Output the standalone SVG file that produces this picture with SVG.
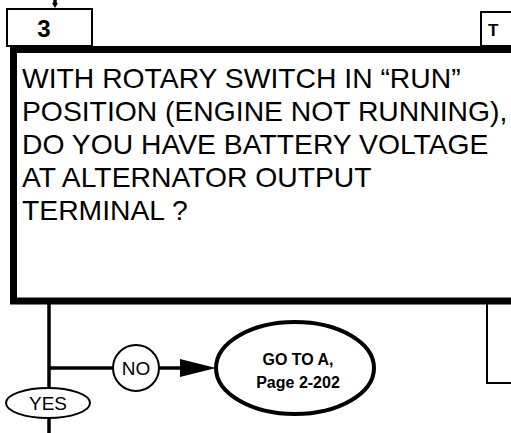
<svg xmlns="http://www.w3.org/2000/svg" width="511" height="433" viewBox="0 0 511 433">
<defs>
<style>
.t{font-family:"Liberation Sans",Arial,sans-serif;fill:#000}
.q{font-size:28.3px}
.b{font-weight:bold}
.thin{fill:#fff;stroke:#000;stroke-width:2}
.ln{fill:none;stroke:#000;stroke-width:3.5}
</style>
</defs>
<rect width="511" height="433" fill="#fff"/>
<g id="connectors">
<line class="ln" x1="55" y1="0" x2="55" y2="4" stroke-width="2"/>
<polygon points="52,3 58,3 55,8" fill="#000"/>
<line class="ln" x1="49" y1="303" x2="49" y2="389"/>
<line class="ln" x1="49" y1="418" x2="49" y2="433"/>
<line class="ln" x1="49" y1="368" x2="113" y2="368"/>
<line class="ln" x1="159" y1="368" x2="182" y2="368"/>
<polygon points="180,359 216,368 180,377" fill="#000"/>
<polyline points="487,303 487,383 511,383" fill="none" stroke="#000" stroke-width="2"/>
</g>
<g id="box3">
<rect class="thin" x="7" y="9" width="85" height="37"/>
<text class="t b" x="44" y="37" font-size="24" text-anchor="middle">3</text>
</g>
<g id="boxT">
<rect class="thin" x="481" y="12" width="40" height="34"/>
<text class="t b" x="488" y="36" font-size="17">T</text>
</g>
<g id="question">
<rect x="13.5" y="49.5" width="510" height="251.5" fill="#fff" stroke="#000" stroke-width="7"/>
<text class="t q" x="22" y="88">WITH ROTARY SWITCH IN “RUN”</text>
<text class="t q" x="22" y="121">POSITION (ENGINE NOT RUNNING),</text>
<text class="t q" x="22" y="154">DO YOU HAVE BATTERY VOLTAGE</text>
<text class="t q" x="22" y="187">AT ALTERNATOR OUTPUT</text>
<text class="t q" x="22" y="220">TERMINAL ?</text>
</g>
<g id="no">
<circle class="thin" cx="136" cy="368" r="23"/>
<text class="t" x="136" y="375" font-size="19" text-anchor="middle">NO</text>
</g>
<g id="yes">
<ellipse class="thin" cx="48" cy="403" rx="42" ry="15"/>
<text class="t" x="48" y="410" font-size="19" text-anchor="middle">YES</text>
</g>
<g id="gotoA">
<ellipse cx="295" cy="368" rx="79" ry="46" fill="#fff" stroke="#000" stroke-width="4"/>
<text class="t b" x="298" y="365" font-size="16" text-anchor="middle">GO TO A,</text>
<text class="t b" x="298" y="388" font-size="16" text-anchor="middle">Page 2-202</text>
</g>
</svg>
